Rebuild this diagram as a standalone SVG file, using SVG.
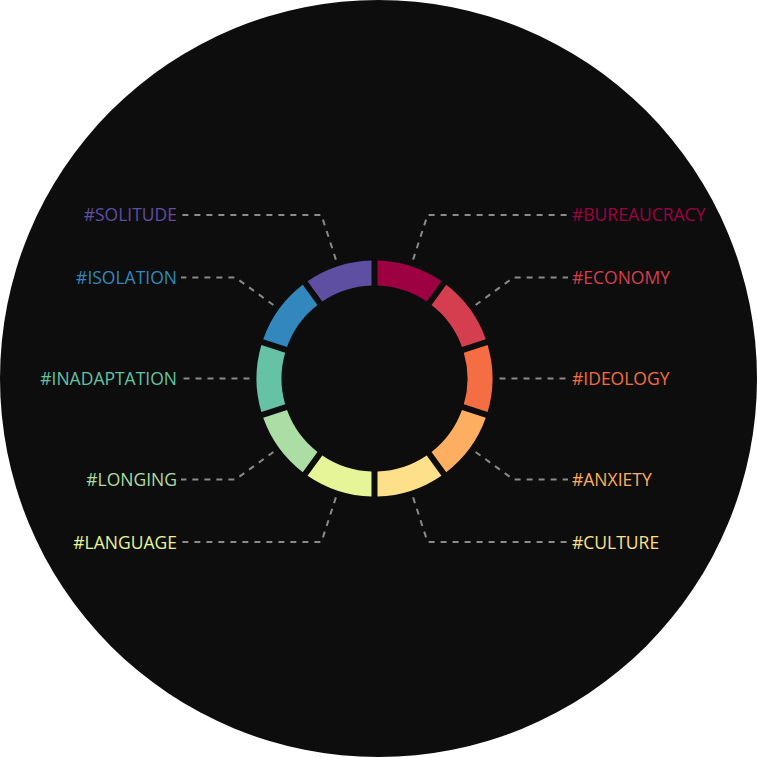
<svg xmlns="http://www.w3.org/2000/svg" width="757" height="757" viewBox="0 0 757 757">
<style>
.lbl{font-family:"Open Sans","Noto Sans","Liberation Sans",sans-serif;font-size:17.5px}
.r{text-anchor:start}
.l{text-anchor:end}
.conn polyline{fill:none;stroke:#8a8a8a;stroke-width:2;stroke-dasharray:6,6}
</style>
<defs>
<path id="seg" d="M377.5,260.54 A118,118 0 0 1 441.41,281.30 L426.71,301.53 A93,93 0 0 0 377.5,285.55 Z"/>
</defs>
<rect width="757" height="757" fill="#ffffff"/>
<circle cx="378.5" cy="378.5" r="378.5" fill="#0d0d0d"/>
<g id="connectors" class="conn">
<polyline points="413.1,259.6 427.6,214.9 568,214.9"/>
<polyline points="475.6,305.0 513.6,277.4 568,277.4"/>
<polyline points="499.5,378.5 546.5,378.5 568,378.5"/>
<polyline points="475.6,452.0 513.6,479.6 568,479.6"/>
<polyline points="413.1,497.4 427.6,542.1 568,542.1"/>
<polyline points="335.9,497.4 321.4,542.1 181,542.1"/>
<polyline points="273.4,452.0 235.4,479.6 181,479.6"/>
<polyline points="249.5,378.5 202.5,378.5 181,378.5"/>
<polyline points="273.4,305.0 235.4,277.4 181,277.4"/>
<polyline points="335.9,259.6 321.4,214.9 181,214.9"/>
</g>
<g id="bureaucracy"><use href="#seg" fill="#9e0142"/><text class="lbl r" x="572" y="221.4" fill="#9e0142">#BUREAUCRACY</text></g>
<g id="economy"><use href="#seg" fill="#d53e4f" transform="rotate(36 374.5 378.5)"/><text class="lbl r" x="572" y="283.9" fill="#d53e4f">#ECONOMY</text></g>
<g id="ideology"><use href="#seg" fill="#f46d43" transform="rotate(72 374.5 378.5)"/><text class="lbl r" x="572" y="385" fill="#f46d43">#IDEOLOGY</text></g>
<g id="anxiety"><use href="#seg" fill="#fdae61" transform="rotate(108 374.5 378.5)"/><text class="lbl r" x="572" y="486.1" fill="#fdae61">#ANXIETY</text></g>
<g id="culture"><use href="#seg" fill="#fee08b" transform="rotate(144 374.5 378.5)"/><text class="lbl r" x="572" y="548.6" fill="#fee08b">#CULTURE</text></g>
<g id="language"><use href="#seg" fill="#e6f598" transform="rotate(180 374.5 378.5)"/><text class="lbl l" x="177" y="548.6" fill="#e6f598">#LANGUAGE</text></g>
<g id="longing"><use href="#seg" fill="#abdda4" transform="rotate(216 374.5 378.5)"/><text class="lbl l" x="177" y="486.1" fill="#abdda4">#LONGING</text></g>
<g id="inadaptation"><use href="#seg" fill="#66c2a5" transform="rotate(252 374.5 378.5)"/><text class="lbl l" x="177" y="385" fill="#66c2a5">#INADAPTATION</text></g>
<g id="isolation"><use href="#seg" fill="#3288bd" transform="rotate(288 374.5 378.5)"/><text class="lbl l" x="177" y="283.9" fill="#3288bd">#ISOLATION</text></g>
<g id="solitude"><use href="#seg" fill="#5e4fa2" transform="rotate(324 374.5 378.5)"/><text class="lbl l" x="177" y="221.4" fill="#5e4fa2">#SOLITUDE</text></g>
</svg>
